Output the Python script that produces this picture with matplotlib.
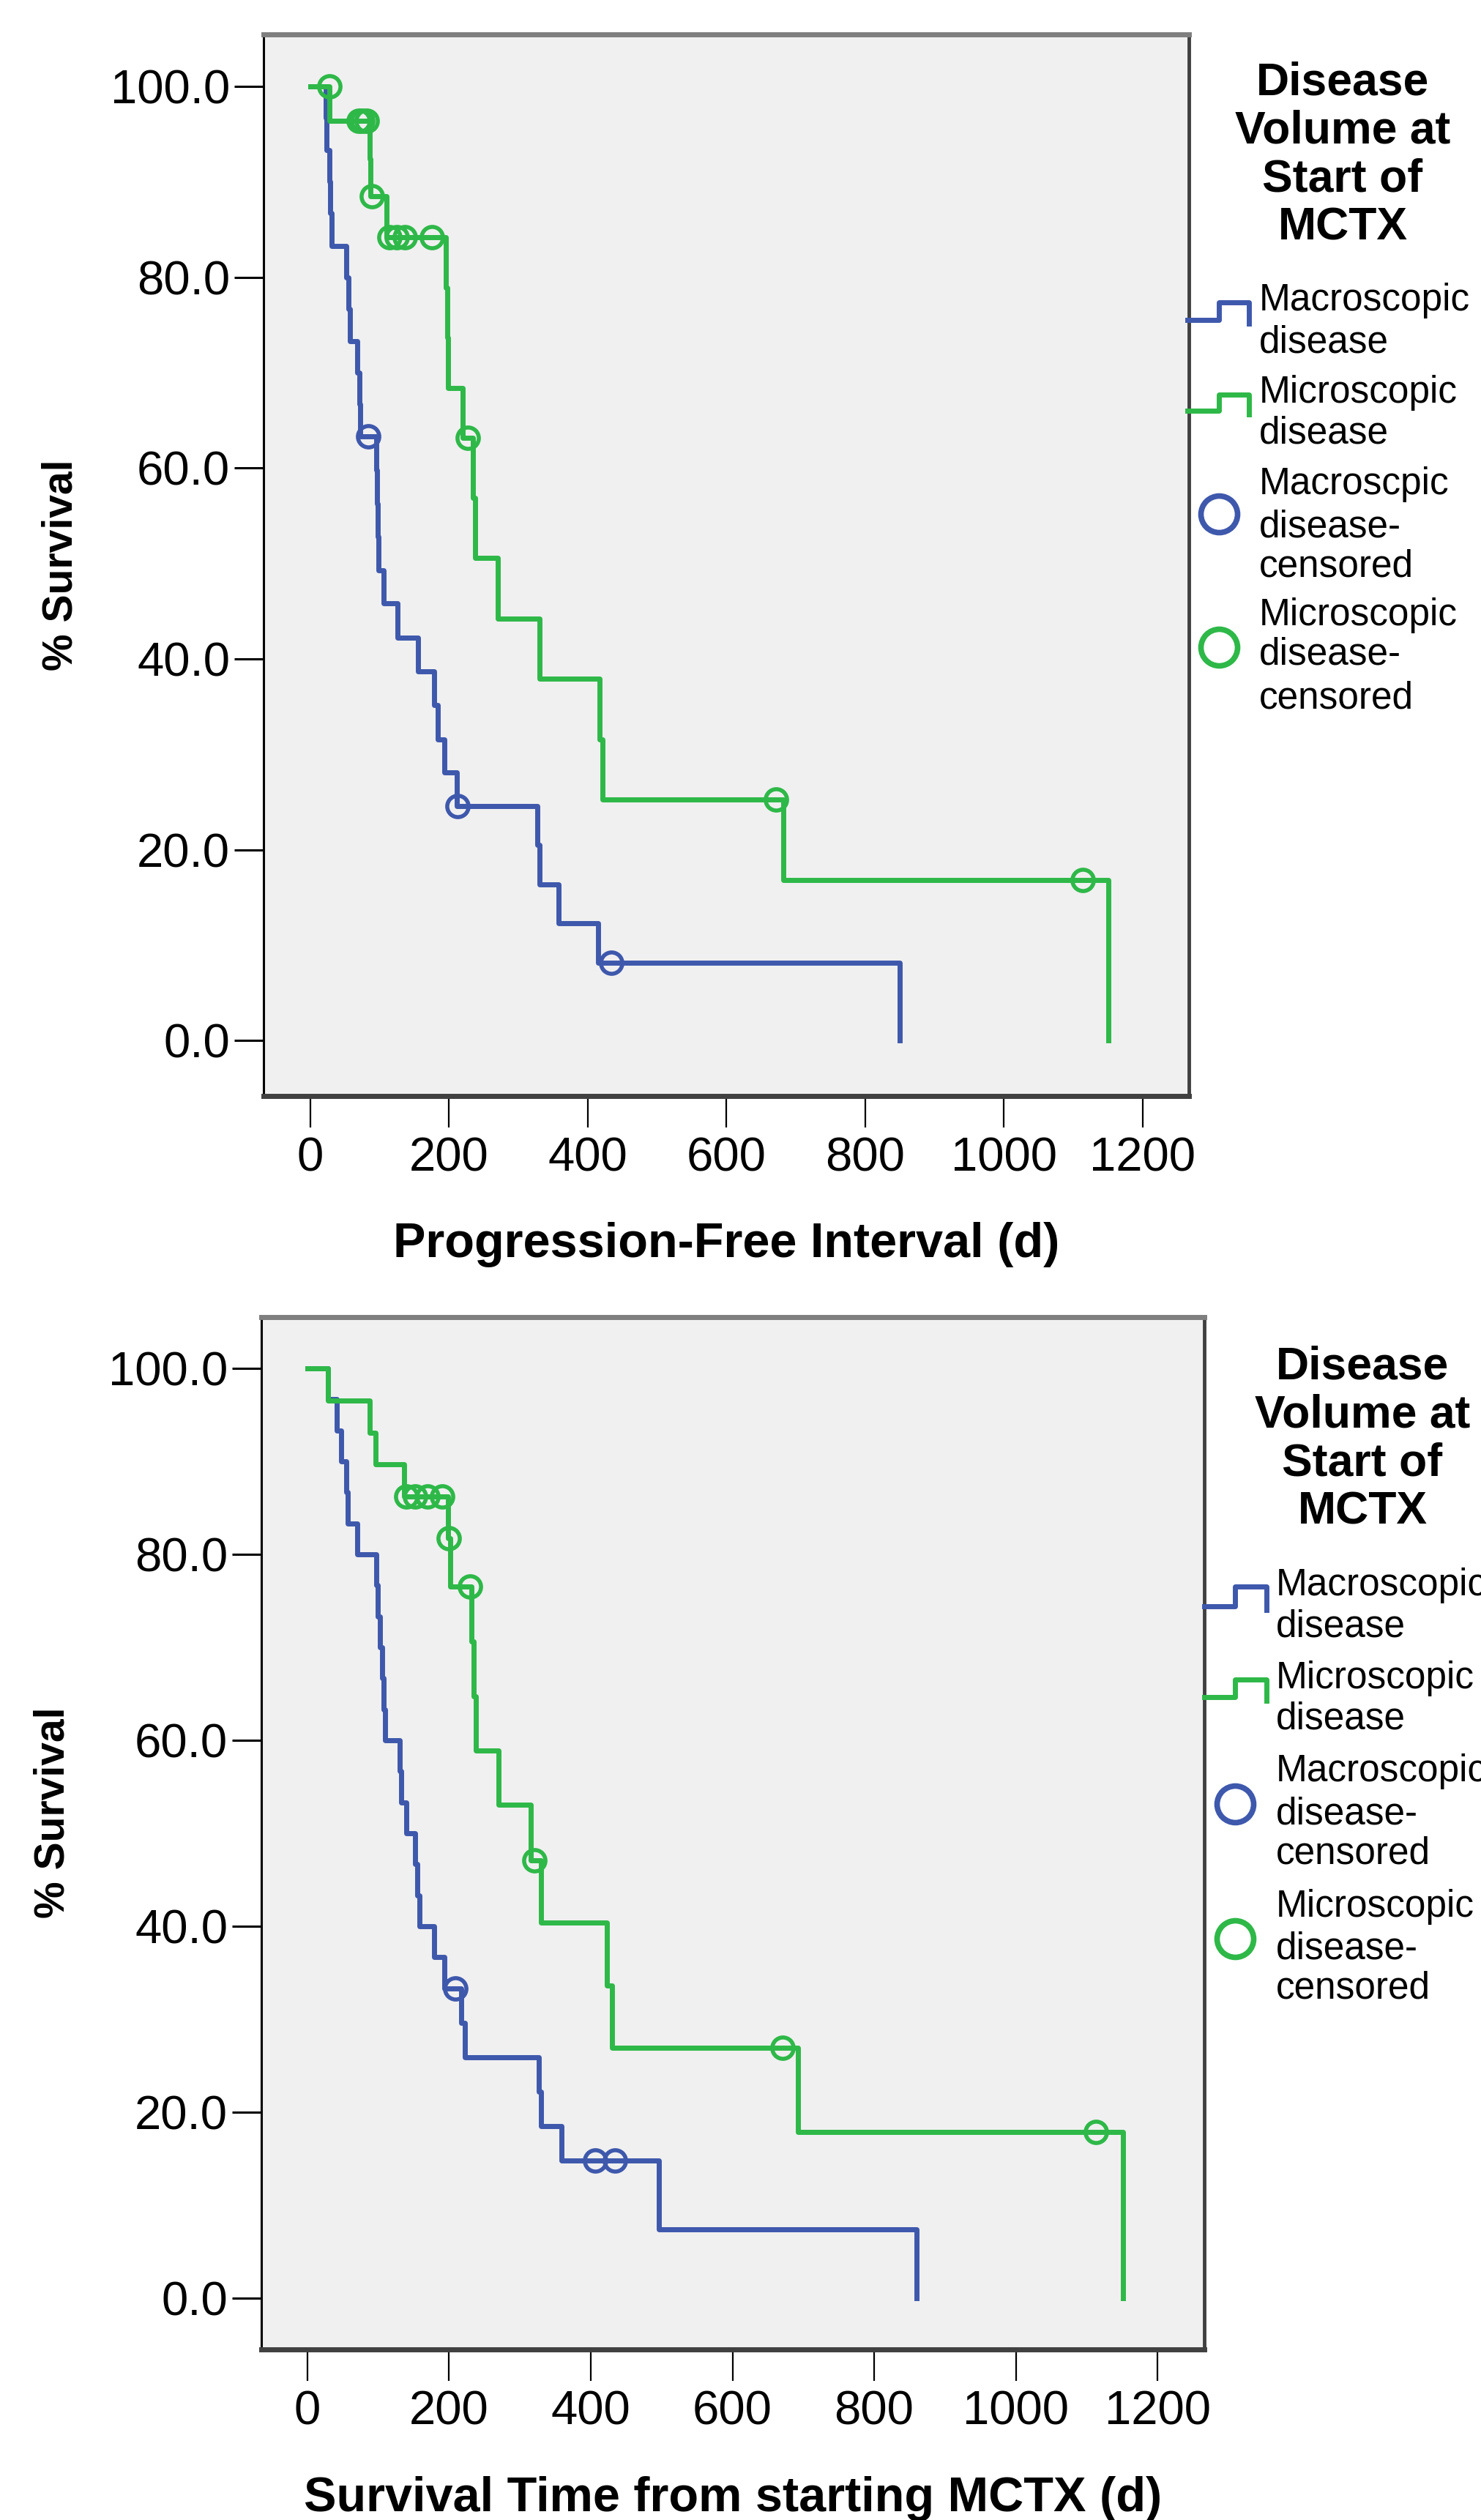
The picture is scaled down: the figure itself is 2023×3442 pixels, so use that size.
import matplotlib.pyplot as plt
from matplotlib.lines import Line2D

plt.rcParams['font.family'] = ['Liberation Sans', 'DejaVu Sans']

BLUE = '#3E58AC'
GREEN = '#2EB848'
W, H = 2024, 3442

# ---- Progression-free interval (top panel) ----
pfi_macro_t = [0, 22, 23, 27, 29, 31, 52, 55, 57, 68, 71, 72, 95, 96, 97, 98,
               106, 126, 155, 178, 184, 193, 211, 327, 330, 358, 415, 850]
pfi_macro_s = [100, 96.7, 93.3, 90.0, 86.7, 83.3, 80.0, 76.7, 73.3, 70.0, 66.7, 63.3,
               59.8, 56.3, 52.8, 49.3, 45.8, 42.2, 38.7, 35.2, 31.6, 28.1, 24.6,
               20.5, 16.4, 12.3, 8.2, 0]
pfi_macro_cens_t = [83, 212, 434]
pfi_macro_cens_s = [63.3, 24.6, 8.2]

pfi_micro_t = [0, 27, 86, 87, 110, 195, 197, 198, 220, 234, 238, 270, 330, 417, 421, 682, 1150]
pfi_micro_s = [100, 96.4, 92.4, 88.5, 84.2, 78.9, 73.7, 68.4, 63.2, 56.9, 50.6, 44.2,
               37.9, 31.6, 25.3, 16.8, 0]
pfi_micro_cens_t = [28, 70, 75, 81, 89, 114, 125, 136, 175, 227, 671, 1113]
pfi_micro_cens_s = [100, 96.4, 96.4, 96.4, 88.5, 84.2, 84.2, 84.2, 84.2, 63.2, 25.3, 16.8]

# ---- Survival from starting MCTX (bottom panel) ----
os_macro_t = [0, 29, 41, 48, 55, 57, 70, 97, 99, 102, 105, 108, 110, 130, 132, 140,
              152, 155, 158, 179, 193, 217, 222, 327, 330, 359, 496, 860]
os_macro_s = [100, 96.7, 93.3, 90.0, 86.7, 83.3, 80.0, 76.7, 73.3, 70.0, 66.7, 63.3,
              60.0, 56.7, 53.3, 50.0, 46.7, 43.3, 40.0, 36.7, 33.3, 29.6, 25.9,
              22.2, 18.5, 14.8, 7.4, 0]
os_macro_cens_t = [209, 406, 434]
os_macro_cens_s = [33.3, 14.8, 14.8]

os_micro_t = [0, 29, 88, 96, 136, 198, 202, 232, 235, 238, 270, 315, 330, 423, 430, 693, 1151]
os_micro_s = [100, 96.5, 93.1, 89.7, 86.2, 81.7, 76.5, 70.6, 64.7, 58.9, 53.1, 47.1,
              40.4, 33.6, 26.9, 17.9, 0]
os_micro_cens_t = [140, 152, 170, 190, 200, 229, 320, 671, 1113]
os_micro_cens_s = [86.2, 86.2, 86.2, 86.2, 81.7, 76.5, 47.1, 26.9, 17.9]

x_ticks = [0, 200, 400, 600, 800, 1000, 1200]
y_ticks = [0, 20, 40, 60, 80, 100]

fig = plt.figure(figsize=(W / 100, H / 100), dpi=100)


def fx(x):
    return x / W


def fy(y):
    return 1 - y / H


def panel(left, top, right, bottom, xlim, ylim, curves, xlabel):
    ax = fig.add_axes([fx(left), fy(bottom), (right - left) / W, (bottom - top) / H])
    ax.set_facecolor('#F0F0F0')
    for t, s, ct, cs, col in curves:
        ax.step(t, s, where='post', color=col, lw=5)
        ax.plot(ct, cs, 'o', ms=21, mfc='none', mec=col, mew=4)
    ax.set_xlim(*xlim)
    ax.set_ylim(*ylim)
    ax.set_xticks(x_ticks)
    ax.set_yticks(y_ticks)
    ax.set_yticklabels(['%.1f' % v for v in y_ticks])
    ax.tick_params(axis='x', length=31, width=1.6, pad=9, labelsize=47, direction='out')
    ax.tick_params(axis='y', length=29, width=2.2, pad=4, labelsize=47, direction='out')
    ax.spines['left'].set_linewidth(2.2)
    ax.spines['right'].set_linewidth(3.5)
    ax.spines['right'].set_color('#404040')
    ax.spines['top'].set_linewidth(5)
    ax.spines['top'].set_color('#7F7F7F')
    ax.spines['bottom'].set_linewidth(5)
    ax.spines['bottom'].set_color('#404040')
    ax.set_xlabel(xlabel, fontsize=48, fontweight='bold', va='baseline')
    ax.set_ylabel('% Survival', fontsize=41, fontweight='bold', va='center')
    return ax


def legend(title_cx, title_base, glyph_x, glyph_y, circle_x, circle_y, text_x, entries):
    for line, yb in zip(['Disease', 'Volume at', 'Start of', 'MCTX'], title_base):
        fig.text(fx(title_cx), fy(yb), line, ha='center', va='baseline',
                 fontsize=45, fontweight='bold')
    x0, xm, x1 = glyph_x
    for (ylow, yhigh), col in zip(glyph_y, [BLUE, GREEN]):
        fig.add_artist(Line2D([fx(x0), fx(xm), fx(xm), fx(x1), fx(x1)],
                              [fy(ylow), fy(ylow), fy(yhigh), fy(yhigh), fy(ylow + 5)],
                              transform=fig.transFigure, color=col, lw=5))
    for cy, col in zip(circle_y, [BLUE, GREEN]):
        fig.add_artist(Line2D([fx(circle_x)], [fy(cy)], transform=fig.transFigure,
                              marker='o', ms=36, mfc='none', mec=col, mew=5.5, ls='none'))
    for text, yb in entries:
        fig.text(fx(text_x), fy(yb), text, ha='left', va='baseline', fontsize=37)


ax1 = panel(360, 47, 1624, 1497, (-67.5, 1266.5), (-5.8, 105.45),
            [(pfi_macro_t, pfi_macro_s, pfi_macro_cens_t, pfi_macro_cens_s, BLUE),
             (pfi_micro_t, pfi_micro_s, pfi_micro_cens_t, pfi_micro_cens_s, GREEN)],
            'Progression-Free Interval (d)')
ax1.xaxis.set_label_coords(0.5, -(1717 - 1497) / 1450)
ax1.yaxis.set_label_coords((83 - 360) / 1264, 0.5)

ax2 = panel(357, 1799, 1645, 3209, (-65.1, 1266.1), (-5.5, 105.5),
            [(os_macro_t, os_macro_s, os_macro_cens_t, os_macro_cens_s, BLUE),
             (os_micro_t, os_micro_s, os_micro_cens_t, os_micro_cens_s, GREEN)],
            'Survival Time from starting MCTX (d)')
ax2.xaxis.set_label_coords(0.5, -(3430 - 3209) / 1410)
ax2.yaxis.set_label_coords((72 - 357) / 1288, 0.52)

# the bottom legend runs off the right edge in the original, so its text is clipped there
legend(1834, [130, 195, 261, 327], (1622, 1665, 1706), [(437, 413), (561, 539)],
       1665, [702, 884], 1720,
       [('Macroscopic', 424), ('disease', 481), ('Microscopic', 550), ('disease', 606),
        ('Macroscpic', 675), ('disease-', 733), ('censored', 787),
        ('Microscopic', 854), ('disease-', 908), ('censored', 967)])

legend(1861, [1884, 1949, 2015, 2082], (1645, 1687, 1730), [(2194, 2167), (2318, 2294)],
       1687, [2464, 2648], 1743,
       [('Macroscopic', 2179), ('disease', 2235), ('Microscopic', 2306), ('disease', 2362),
        ('Macroscopic', 2433), ('disease-', 2491), ('censored', 2545),
        ('Microscopic', 2618), ('disease-', 2675), ('censored', 2730)])

fig.savefig('out.png', dpi=100, facecolor='white')
